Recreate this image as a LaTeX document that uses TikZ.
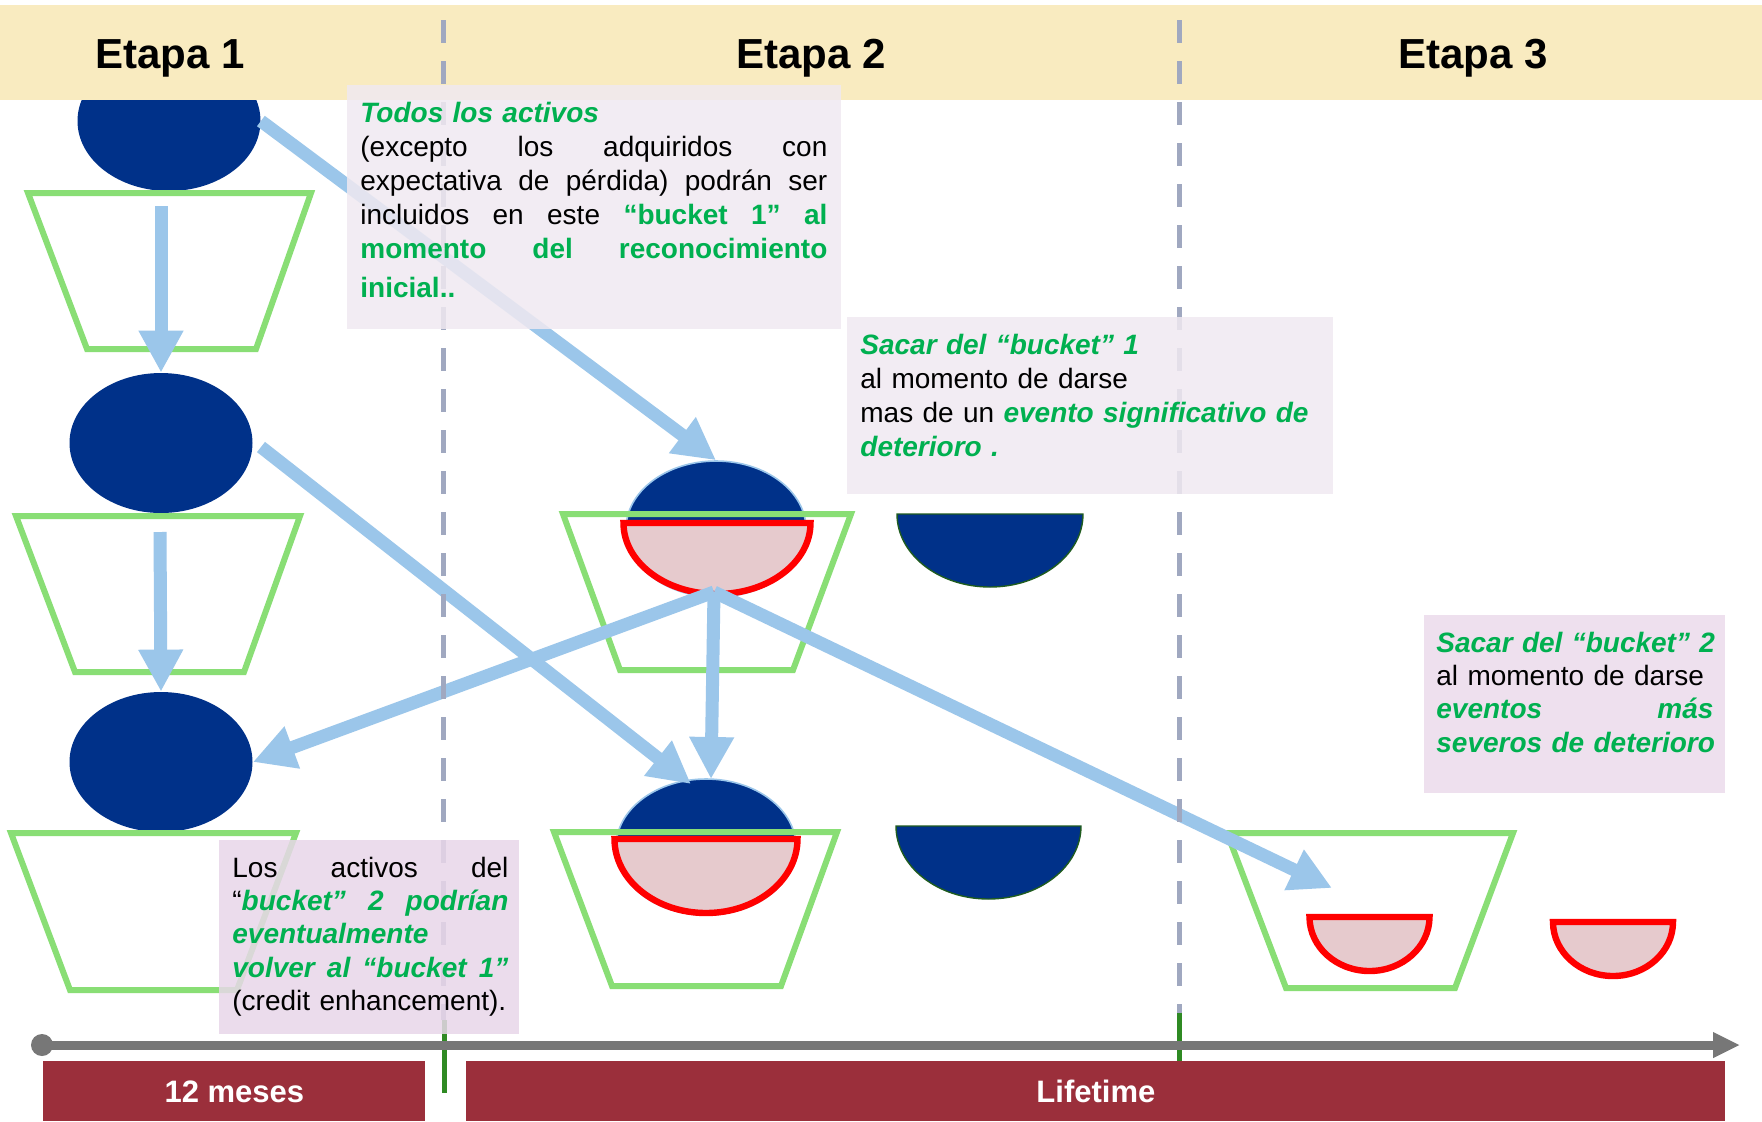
\documentclass[tikz,border=0pt]{standalone}
\usepackage{fontspec}
\setmainfont{Liberation Sans}
\usetikzlibrary{arrows.meta,shapes.geometric}
\definecolor{hdr}{HTML}{F9EBC0}
\definecolor{dblue}{HTML}{003189}
\definecolor{tgreen}{HTML}{89DE75}
\definecolor{lblue}{HTML}{9BC6EA}
\definecolor{pinkf}{HTML}{E6CACD}
\definecolor{dashc}{HTML}{A0A8C0}
\definecolor{mgreen}{HTML}{2F8A23}
\definecolor{axisg}{HTML}{777777}
\definecolor{barred}{HTML}{9B2F3B}
\definecolor{boxa}{HTML}{F0E9F1}
\definecolor{boxb}{HTML}{ECDBEC}
\definecolor{boxc}{HTML}{E8D7E9}
\definecolor{txtgreen}{HTML}{00B050}
\definecolor{dkgreen}{HTML}{1F5C1F}
\newcommand\gb{\color{txtgreen}\bfseries}
\newcommand\gbi{\color{txtgreen}\bfseries\itshape}
\newcommand\jline[1]{\leavevmode\hbox to \hsize{#1}}
\newcommand\mkhalf[5]{\draw[#1] ({#2-#4},{#3}) .. controls ({#2-#4},{#3+0.5523*#5}) and ({#2-0.5523*#4},{#3+#5}) .. ({#2},{#3+#5}) .. controls ({#2+0.5523*#4},{#3+#5}) and ({#2+#4},{#3+0.5523*#5}) .. ({#2+#4},{#3}) -- cycle;}
\begin{document}
\begin{tikzpicture}[x=0.5pt,y=-0.5pt,
  bell/.style={ellipse, fill=dblue, inner sep=0pt, minimum width=91.5pt, minimum height=70pt},
  cell/.style={ellipse, fill=dblue, draw=lblue, line width=0.8pt, inner sep=0pt, minimum width=90pt, minimum height=68pt},
  trap/.style={draw=tgreen, line width=3pt, line join=miter},
  redbowl/.style={draw=red, fill=pinkf, line width=3.2pt},
  bluehalf/.style={draw=dkgreen, fill=dblue, line width=0.7pt},
  arr/.style={draw=lblue, line width=6.5pt, -{Triangle[length=21pt,width=21pt]}},
  boxs/.style={fill opacity=0.85, inner sep=0pt, anchor=north west},
  txt/.style={inner sep=0pt, anchor=base west, font=\fontsize{14pt}{17pt}\selectfont},
  txtb/.style={inner sep=0pt, anchor=base west, font=\fontsize{14pt}{16.7pt}\selectfont},
  hdrtxt/.style={anchor=base, inner sep=0pt, font=\fontsize{21pt}{24pt}\selectfont\bfseries},
  bar/.style={fill=barred, text=white, inner sep=0pt, anchor=north west, minimum height=30pt, font=\fontsize{15.5pt}{18pt}\selectfont\bfseries}
]
\useasboundingbox (0,0) rectangle (1762,1121);
\fill[white] (0,0) rectangle (1762,1121);

% Etapa 1 column
\node[bell] (e1) at (169,121) {};
\node[bell] (e2) at (161,443) {};
\node[bell] (e3) at (161,762) {};
\draw[trap] (28,193) -- (311,193) -- (256,349) -- (87,349) -- cycle;
\draw[trap] (16,516) -- (300,516) -- (244,672) -- (75,672) -- cycle;
\draw[trap] (11,833) -- (296,833) -- (237,990) -- (70,990) -- cycle;

% Etapa 2 column
\node[cell] (eA) at (716,529) {};
\mkhalf{redbowl}{717}{523}{93.5}{71}
\draw[trap] (563,514) -- (851,514) -- (793,670) -- (620,670) -- cycle;
\mkhalf{bluehalf}{990}{514}{93}{73}

\node[cell] (eB) at (706,847) {};
\mkhalf{redbowl}{706}{839}{91.5}{74}
\draw[trap] (554,832) -- (837,832) -- (781,986) -- (612,986) -- cycle;
\mkhalf{bluehalf}{988.5}{826}{92.5}{73}

% Etapa 3 column
\draw[trap] (1227,833) -- (1513,833) -- (1455,988) -- (1286,988) -- cycle;
\mkhalf{redbowl}{1369.5}{917}{60}{54}
\mkhalf{redbowl}{1613}{922}{60}{54}

% connector end points
\coordinate (v1s) at (161,206);
\coordinate (v2s) at (160,532);
\coordinate (a2s) at (261,447);
\coordinate (a2e) at (691,784);
\coordinate (hub) at (714,592);
\coordinate (a4e) at (711,779);
\coordinate (a5e) at (1332,888);

% arrows
\draw[arr] (e1.east) -- (eA.north);
\draw[arr] (a2s) -- (a2e);
\draw[arr] (v1s) -- (e2.north);
\draw[arr] (v2s) -- (e3.north);
\draw[arr] (hub) -- (e3.east);
\draw[arr] (hub) -- (a4e);
\draw[arr] (hub) -- (a5e);

% header band
\fill[hdr] (0,5) rectangle (1762,100);
\node[hdrtxt] (h1) at (170,68) {Etapa 1};
\node[hdrtxt] (h2) at (811,68) {Etapa 2};
\node[hdrtxt] (h3) at (1473,68) {Etapa 3};

% dashed separators and green marks
\draw[dashc, line width=2.5pt, dash pattern=on 11.5pt off 9pt] (443,20) -- (443,1020);
\draw[dashc, line width=2.5pt, dash pattern=on 11.5pt off 9pt] (1179,20) -- (1179,1013);
\draw[mgreen, line width=2.5pt] (444,1020) -- (444,1093);
\draw[mgreen, line width=2.5pt] (1179,1013) -- (1179,1061);

% text boxes
\node[boxs, fill=boxa, minimum width=247pt, minimum height=122pt] (b1) at (347,85) {};
\node[boxs, fill=boxa, minimum width=243pt, minimum height=88.5pt] (b2) at (847,317) {};
\node[boxs, fill=boxb, minimum width=150.5pt, minimum height=89pt] (b3) at (1424,615) {};
\node[boxs, fill=boxc, minimum width=150pt, minimum height=97pt] (b4) at (219,840) {};

\node[txt, text width=233.5pt] (t1) at (360,122) {%
{\gbi Todos los activos}\\
\jline{(excepto\hfil los\hfil adquiridos\hfil con}\\
\jline{expectativa\hfil de\hfil pérdida)\hfil podrán\hfil ser}\\
\jline{incluidos\hfil en\hfil este\hfil {\gb “bucket\hfil 1”\hfil al}}\\
\jline{\gb momento\hfil del\hfil reconocimiento}\\[2.5pt]
\mbox{\gb inicial..}};

\node[txt, text width=236pt] (t2) at (860,354) {%
\mbox{\gbi Sacar del “bucket” 1}\\
\mbox{al momento de darse}\\
\mbox{mas de un {\gbi evento significativo de}}\\
\mbox{\gbi deterioro .}};

\node[txtb, text width=138.5pt] (t3) at (1436,652) {%
\mbox{\gbi Sacar del “bucket” 2}\\
\mbox{al momento de darse}\\
\jline{\gbi eventos\hfil más}\\
\mbox{\gbi severos de deterioro}};

\node[txtb, text width=138pt] (t4) at (232,877) {%
\jline{Los\hfil activos\hfil del}\\
\jline{“{\gbi bucket”\hfil 2\hfil podrían}}\\
\mbox{\gbi eventualmente}\\
\jline{\gbi volver\hfil al\hfil “bucket\hfil 1”}\\
\mbox{(credit enhancement).}};

% time axis
\coordinate (ax0) at (42,1045);
\coordinate (ax1) at (1740,1045);
\fill[axisg] (ax0) circle (5.5pt);
\draw[axisg, line width=4.5pt, -{Triangle[length=13.5pt,width=12pt]}] (ax0) -- (ax1);

% bottom bars
\node[bar, minimum width=191pt] (bar1) at (43,1061) {12 meses};
\node[bar, minimum width=629.5pt] (bar2) at (466,1061) {Lifetime};
\end{tikzpicture}
\end{document}
